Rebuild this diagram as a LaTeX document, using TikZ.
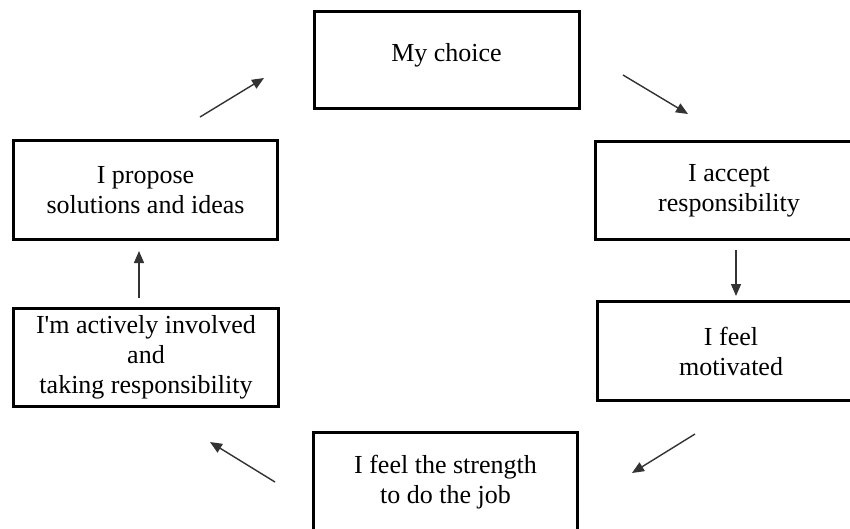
\documentclass[tikz,border=0pt]{standalone}
\usepackage{fontspec}
\setmainfont{Liberation Serif}
\usetikzlibrary{arrows.meta}
\tikzset{
  box/.style={draw=black, line width=3pt, fill=white, inner sep=0pt, align=center,
    font=\fontsize{26}{30}\selectfont, text=black},
  flow/.style={draw=black!80, line width=1.4pt, -{Triangle[length=12pt,width=10pt]}}
}
\begin{document}
\begin{tikzpicture}[x=1pt,y=-1pt]
\clip (0,0) rectangle (850,528);
\fill[white] (0,0) rectangle (850,528);
\node[box, minimum width=265pt, minimum height=97pt] (choice) at (446.5,60) {\raisebox{0pt}[0pt][0pt]{\raisebox{-1pt}{My choice}}};
\node[box, minimum width=267pt, minimum height=98pt] (accept) at (729,190.5) {I accept\\responsibility};
\node[box, minimum width=267pt, minimum height=99pt] (motiv) at (731,351) {I feel\\motivated};
\node[box, minimum width=264pt, minimum height=99pt] (strength) at (445.5,482) {I feel the strength\\to do the job};
\node[box, minimum width=265pt, minimum height=98pt] (involved) at (146,357.5) {I\textquotesingle m actively involved\\and\\taking responsibility};
\node[box, minimum width=264pt, minimum height=99pt] (propose) at (145.5,190) {I propose\\solutions and ideas};
\coordinate (a1s) at (200,117); \coordinate (a1e) at (264,78);
\coordinate (a2s) at (623,75);  \coordinate (a2e) at (688,114);
\coordinate (a3s) at (736,250); \coordinate (a3e) at (736,296);
\coordinate (a4s) at (695,434); \coordinate (a4e) at (632,473);
\coordinate (a5s) at (275,482); \coordinate (a5e) at (210,442);
\coordinate (a6s) at (139,298); \coordinate (a6e) at (139,251);
\draw[flow] (a1s) -- (a1e);
\draw[flow] (a2s) -- (a2e);
\draw[flow] (a3s) -- (a3e);
\draw[flow] (a4s) -- (a4e);
\draw[flow] (a5s) -- (a5e);
\draw[flow] (a6s) -- (a6e);
\end{tikzpicture}
\end{document}
